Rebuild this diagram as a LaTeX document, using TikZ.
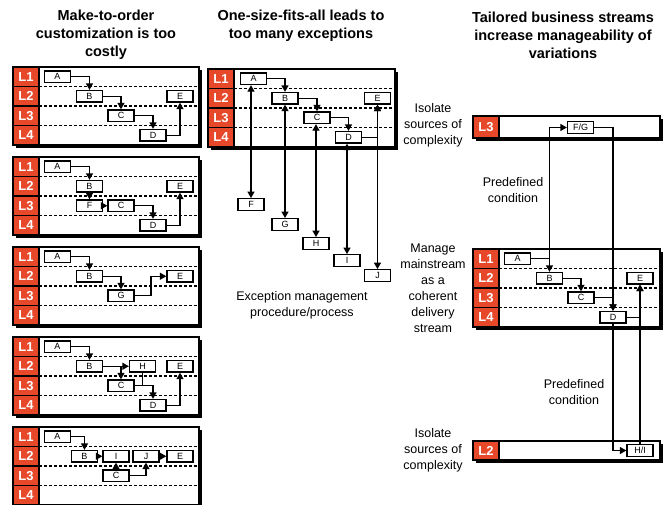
\documentclass[tikz,border=0pt]{standalone}
\usepackage{fontspec}
\setmainfont{Liberation Sans}
\usetikzlibrary{arrows.meta}
\definecolor{lred}{HTML}{E8482A}
\tikzset{
  bx/.style={draw, line width=1.3pt, fill=white, minimum width=26pt, minimum height=11.5pt, inner sep=0pt, font=\fontsize{9}{9}\selectfont},
  arr/.style={line width=1.3pt, -{Triangle[length=6.5pt,width=7pt]}},
  dbl/.style={line width=1.3pt, {Triangle[length=6.5pt,width=7pt]}-{Triangle[length=6.5pt,width=7pt]}},
  ln/.style={line width=1.3pt},
  pline/.style={line width=1.4pt},
  lab/.style={text=white, font=\fontsize{13}{13}\selectfont\bfseries, inner sep=0pt},
  ttl/.style={font=\fontsize{14.5}{18}\selectfont\bfseries, align=center},
  txt/.style={font=\fontsize{12.5}{16}\selectfont, align=center},
  dsh/.style={line width=1.4pt, dash pattern=on 3pt off 2pt}
}
\newcommand\panelfour[3]{%
  \fill[black] (#1+2.5,#3+2.5) rectangle (#2+2.5,#3+80.5);
  \draw[pline, fill=white] (#1,#3) rectangle (#2,#3+78);
  \foreach \k in {1,2,3} {\draw[dsh] (#1+26,#3+\k*19.5) -- (#2,#3+\k*19.5);}
  \foreach \k in {1,2,3,4} {
    \draw[pline, fill=lred] (#1,#3+\k*19.5-19.5) rectangle (#1+26,#3+\k*19.5);
    \node[lab] at (#1+13,#3+\k*19.5-9.75) {L\k};
  }
}
\newcommand\panelone[5]{% x0 x1 top bottom label
  \fill[black] (#1+2.5,#3+2.5) rectangle (#2+2.5,#4+2.5);
  \draw[pline, fill=white] (#1,#3) rectangle (#2,#4);
  \draw[pline, fill=lred] (#1,#3) rectangle (#1+26,#4);
  \node[lab] at (#1+13,#3/2+#4/2) {#5};
}
\begin{document}
\begin{tikzpicture}[x=1pt,y=-1pt]
\useasboundingbox[fill=white] (0,0) rectangle (670,504);

% titles
\node[ttl] (t1) at (106,35) {Make-to-order\\customization is too\\costly};
\node[ttl] (t2) at (301,26) {One-size-fits-all leads to\\too many exceptions};
\node[ttl] (t3) at (563,35) {Tailored business streams\\increase manageability of\\variations};

% ---------- left column ----------
\panelfour{13}{199}{67}
\node[bx] (p1A) at (57.5,76.75) {A};
\node[bx] (p1B) at (89.5,96.25) {B};
\node[bx] (p1C) at (121,115.75) {C};
\node[bx] (p1D) at (153,135.25) {D};
\node[bx] (p1E) at (180,96.25) {E};
\draw[arr] (p1A.east) -| (p1B.north);
\draw[arr] (p1B.east) -| (p1C.north);
\draw[arr] (p1C.east) -| (p1D.north);
\draw[arr] (p1D.east) -| (p1E.south);

\panelfour{13}{199}{157}
\node[bx] (p2A) at (57.5,166.75) {A};
\node[bx] (p2B) at (89.5,186.25) {B};
\node[bx] (p2E) at (180,186.25) {E};
\node[bx] (p2F) at (89.5,205.75) {F};
\node[bx] (p2C) at (121,205.75) {C};
\node[bx] (p2D) at (153,225.25) {D};
\draw[arr] (p2A.east) -| (p2B.north);
\draw[arr] (p2B.south) -- (p2F.north);
\draw[arr] (p2F.east) -- (p2C.west);
\draw[arr] (p2C.east) -| (p2D.north);
\draw[arr] (p2D.east) -| (p2E.south);

\panelfour{13}{199}{247}
\node[bx] (p3A) at (57.5,256.75) {A};
\node[bx] (p3B) at (89.5,276.25) {B};
\node[bx] (p3E) at (180,276.25) {E};
\node[bx] (p3G) at (121,295.75) {G};
\coordinate (p3k) at (151,295.75);
\draw[arr] (p3A.east) -| (p3B.north);
\draw[arr] (p3B.east) -| (p3G.north);
\draw[arr] (p3G.east) -- (p3k) |- (p3E.west);

\panelfour{13}{199}{337}
\node[bx] (p4A) at (57.5,346.75) {A};
\node[bx] (p4B) at (89.5,366.25) {B};
\node[bx] (p4H) at (142.5,366.25) {H};
\node[bx] (p4E) at (180,366.25) {E};
\node[bx] (p4C) at (121,385.75) {C};
\node[bx] (p4D) at (153,405.25) {D};
\draw[arr] (p4A.east) -| (p4B.north);
\draw[arr] (p4B.east) -- (p4H.west);
\draw[arr] (p4B.east -| p4C.north) -- (p4C.north);
\draw[ln] (p4H.south) -- (p4H.south |- p4C.east);
\draw[arr] (p4C.east) -| (p4D.north);
\draw[arr] (p4D.east) -| (p4E.south);

\panelfour{13}{199}{427}
\node[bx] (p5A) at (57.5,436.75) {A};
\node[bx] (p5B) at (84.5,456.25) {B};
\node[bx] (p5I) at (116,456.25) {I};
\node[bx] (p5J) at (146,456.25) {J};
\node[bx] (p5E) at (180,456.25) {E};
\node[bx] (p5C) at (116,475.75) {C};
\draw[arr] (p5A.east) -| (p5B.north);
\draw[arr] (p5B.east) -- (p5I.west);
\draw[arr] (p5C.north) -- (p5I.south);
\draw[arr] (p5C.east) -| (p5J.south);
\draw[arr] (p5J.east) -- (p5E.west);

% ---------- middle column ----------
\panelfour{208}{395}{69}
\node[bx] (mA) at (253.5,78.75) {A};
\node[bx] (mB) at (285,98.25) {B};
\node[bx] (mC) at (317,117.75) {C};
\node[bx] (mD) at (348.5,137.25) {D};
\node[bx] (mE) at (377.5,98.25) {E};
\node[bx] (mF) at (251,204.5) {F};
\node[bx] (mG) at (285,224.5) {G};
\node[bx] (mH) at (316,243.5) {H};
\node[bx] (mI) at (347,260.5) {I};
\node[bx] (mJ) at (377.5,275.5) {J};
\draw[arr] (mA.east) -| (mB.north);
\draw[arr] (mB.east) -| (mC.north);
\draw[arr] (mC.east) -| (mD.north);
\draw[arr] (mD.east) -| (mE.south);
\draw[dbl] (mF.north |- mA.south) -- (mF.north);
\draw[dbl] (mG.north |- mB.south) -- (mG.north);
\draw[dbl] (mH.north |- mC.south) -- (mH.north);
\draw[dbl] (mI.north |- mD.south) -- (mI.north);
\draw[dbl] (mJ.north |- mE.south) -- (mJ.north);
\node[txt] (exc) at (302,305) {Exception management\\procedure/process};

% ---------- right column ----------
\node[txt] (iso1) at (433,125.5) {Isolate\\sources of\\complexity};
\node[txt] (mgt) at (433,288) {Manage\\mainstream\\as a\\coherent\\delivery\\stream};
\node[txt] (iso2) at (433,450) {Isolate\\sources of\\complexity};
\node[txt] (pre1) at (513,190.5) {Predefined\\condition};
\node[txt] (pre2) at (574,392.5) {Predefined\\condition};

\panelone{473}{660}{116}{138}{L3}
\node[bx] (rFG) at (580.5,127.5) {F/G};
\panelfour{473}{660}{249}
\node[bx] (rA) at (517.5,258.75) {A};
\node[bx] (rB) at (549.5,278.25) {B};
\node[bx] (rC) at (581,297.75) {C};
\node[bx] (rD) at (613,317.25) {D};
\node[bx] (rE) at (640,278.25) {E};
\panelone{473}{660}{441}{460}{L2}
\node[bx] (rHI) at (640,450.5) {H/I};

\draw[arr] (rA.east) -| (rB.north);
\draw[arr] (rB.east) -| (rC.north);
\draw[arr] (rC.east) -| (rD.north);
\draw[arr] (rD.east) -| (rE.south);
\draw[arr] (rB.north |- rA.east) -- (rB.north |- rFG.west) -- (rFG.west);
\draw[arr] (rFG.east) -| (rD.north);
\draw[arr] (rD.south) |- (rHI.west);
\draw[arr] (rHI.north) -- (rE.south);
\end{tikzpicture}
\end{document}
